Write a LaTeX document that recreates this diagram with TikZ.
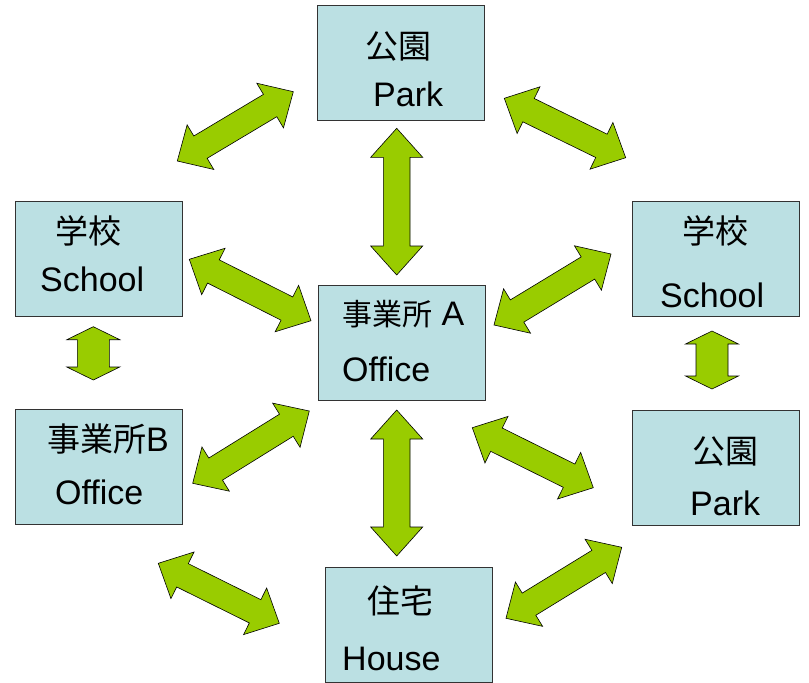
\documentclass[tikz,border=0pt]{standalone}
\usepackage{fontspec}
\setmainfont{Liberation Sans}
\newfontfamily\cjk{Noto Sans CJK JP}
\usetikzlibrary{calc}
\definecolor{boxfill}{RGB}{187,224,227}
\definecolor{arrowgreen}{RGB}{153,204,0}
\tikzset{
  box/.style={draw=black!80, line width=0.8pt, fill=boxfill, minimum width=167pt, minimum height=115pt, inner sep=0pt},
  lat/.style={anchor=base west, inner sep=0pt, font=\fontsize{34}{38}\selectfont},
  cj/.style={anchor=base west, inner sep=0pt, font=\cjk\fontsize{33}{37}\selectfont},
  arrowshape/.style={fill=arrowgreen, draw=black, line width=0.6pt, line join=miter},
}
% #1,#2 tips; #3 half shaft; #4 half head; #5 head length
\newcommand\dblarrow[5]{%
  \coordinate (tmpP) at ($(#1)!#5!(#2)$);
  \coordinate (tmpQ) at ($(#2)!#5!(#1)$);
  \filldraw[arrowshape] (#1)
    -- ($(tmpP)!#4!90:(#2)$) -- ($(tmpP)!#3!90:(#2)$)
    -- ($(tmpQ)!#3!-90:(#1)$) -- ($(tmpQ)!#4!-90:(#1)$)
    -- (#2)
    -- ($(tmpQ)!#4!90:(#1)$) -- ($(tmpQ)!#3!90:(#1)$)
    -- ($(tmpP)!#3!-90:(#2)$) -- ($(tmpP)!#4!-90:(#2)$)
    -- cycle;}
\begin{document}
\begin{tikzpicture}[x=1pt,y=-1pt]
\useasboundingbox (0,0) rectangle (809,683);
% boxes
\node[box] (park1) at (400.5,62.5) {};
\node[box] (schoolL) at (99,258.5) {};
\node[box] (officeA) at (402,342.5) {};
\node[box] (schoolR) at (716,258.5) {};
\node[box] (officeB) at (99,466.5) {};
\node[box] (park2) at (716,467.5) {};
\node[box] (house) at (408.5,624.5) {};
% texts
\node[cj] (t1a) at (365,58) {公園};
\node[lat] (t1b) at (373,106) {Park};
\node[cj] (t2a) at (55,243) {学校};
\node[lat] (t2b) at (40,291) {School};
\node[lat] (t3a) at (342,325) {{\cjk\fontsize{30}{34}\selectfont 事業所} A};
\node[lat] (t3b) at (342,381) {Office};
\node[cj] (t4a) at (682,243) {学校};
\node[lat] (t4b) at (660,307) {School};
\node[lat] (t5a) at (47,451) {{\cjk\fontsize{33}{37}\selectfont 事業所}B};
\node[lat] (t5b) at (55,504) {Office};
\node[cj] (t6a) at (692,463) {公園};
\node[lat] (t6b) at (690,515) {Park};
\node[cj] (t7a) at (367,613) {住宅};
\node[lat] (t7b) at (342,670) {House};
% arrow end points
\coordinate (a1s) at (177.3,161);   \coordinate (a1e) at (293.3,91.7);
\coordinate (a2s) at (504.3,98.3);  \coordinate (a2e) at (625.7,157.7);
\coordinate (a3s) at (396.7,128.3); \coordinate (a3e) at (396.7,275);
\coordinate (a4s) at (189.3,259.3); \coordinate (a4e) at (311,320.7);
\coordinate (a5s) at (494,325);     \coordinate (a5e) at (611,254);
\coordinate (a6s) at (93.3,326.7);  \coordinate (a6e) at (93.3,380);
\coordinate (a7s) at (712,331);     \coordinate (a7e) at (712,389);
\coordinate (a8s) at (192.7,483.3); \coordinate (a8e) at (309.3,411);
\coordinate (a9s) at (472.3,427.7); \coordinate (a9e) at (593.3,487.7);
\coordinate (a10s) at (396.7,410);  \coordinate (a10e) at (396.7,556);
\coordinate (a11s) at (158.3,563.3); \coordinate (a11e) at (279.3,623.3);
\coordinate (a12s) at (506,618.3);  \coordinate (a12e) at (621.7,547.3);
% arrows
\dblarrow{a1s}{a1e}{13pt}{26pt}{27pt}
\dblarrow{a2s}{a2e}{13pt}{26pt}{27pt}
\dblarrow{a3s}{a3e}{13.3pt}{26pt}{29pt}
\dblarrow{a4s}{a4e}{13pt}{26pt}{27pt}
\dblarrow{a5s}{a5e}{13pt}{26pt}{27pt}
\dblarrow{a6s}{a6e}{16pt}{26.5pt}{13pt}
\dblarrow{a7s}{a7e}{16pt}{26.5pt}{13pt}
\dblarrow{a8s}{a8e}{13pt}{26pt}{27pt}
\dblarrow{a9s}{a9e}{13pt}{26pt}{27pt}
\dblarrow{a10s}{a10e}{13.3pt}{26pt}{29pt}
\dblarrow{a11s}{a11e}{13pt}{26pt}{27pt}
\dblarrow{a12s}{a12e}{13pt}{26pt}{27pt}
\end{tikzpicture}
\end{document}
